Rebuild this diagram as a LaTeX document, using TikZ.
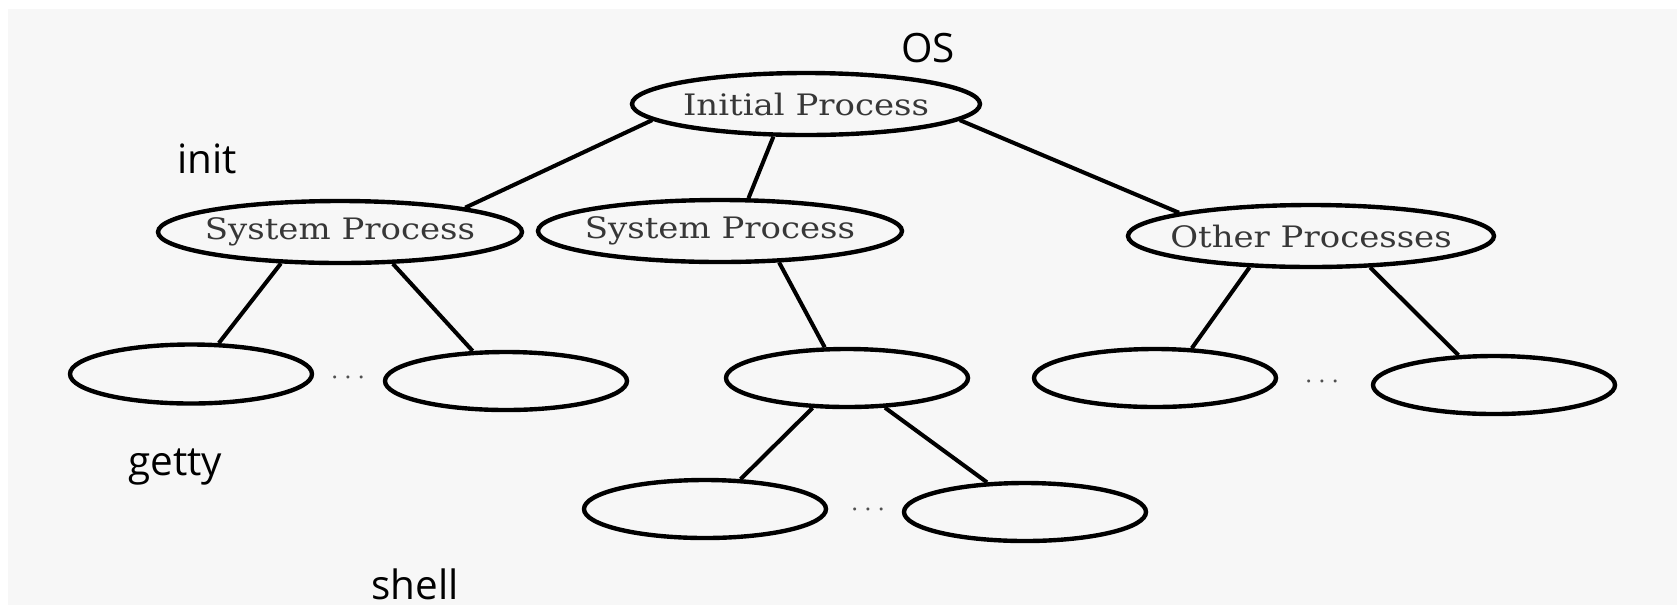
\documentclass[tikz,border=0pt]{standalone}
\usepackage{fontspec}
\setmainfont{DejaVu Serif}
\newfontfamily\boxfont[FakeStretch=1.15]{DejaVu Serif}
\newfontfamily\notefont{Open Sans}
\usetikzlibrary{shapes.geometric}
\definecolor{BgClr}{RGB}{247,247,247}
\definecolor{TextClr}{RGB}{55,55,55}
\definecolor{DotClr}{RGB}{80,80,80}

\tikzset{
  ProcNode/.style={ellipse,draw,line width=1.25pt,inner xsep=-0.2cm,inner ysep=0pt,
    minimum width=3.64cm,minimum height=0.62cm,
    font=\boxfont\fontsize{8.4}{9}\selectfont,text=TextClr},
  LeafNode/.style={ellipse,draw,line width=1.25pt,inner sep=0pt,
    minimum width=2.42cm,minimum height=0.58cm},
  DotNode/.style={inner sep=0pt,text=DotClr,font=\footnotesize},
  NoteNode/.style={anchor=base,inner sep=0pt,font=\notefont\fontsize{11.5}{13}\selectfont},
  EdgeLine/.style={line width=1.15pt}
}

\begin{document}
\begin{tikzpicture}
\useasboundingbox (0,0) rectangle (16.77,6.05);
\fill[white] (0,0) rectangle (16.77,6.05);
\fill[BgClr] (0.08,0) rectangle (16.77,5.96);

\node[ProcNode,minimum width=3.48cm] (ip) at (8.06,5.01) {Initial Process};
\node[ProcNode] (sp1) at (3.40,3.73) {System Process};
\node[ProcNode] (sp2) at (7.20,3.74) {System Process};
\node[ProcNode,minimum width=3.66cm] (oth) at (13.11,3.69) {Other Processes};

\node[LeafNode,minimum height=0.59cm] (ga) at (1.91,2.31) {};
\node[LeafNode] (gb) at (5.06,2.24) {};
\node[LeafNode] (sh) at (8.47,2.27) {};
\node[LeafNode] (oa) at (11.55,2.27) {};
\node[LeafNode] (ob) at (14.94,2.20) {};
\node[LeafNode] (ba) at (7.05,0.96) {};
\node[LeafNode] (bb) at (10.25,0.93) {};

\node[DotNode] (d1) at (3.48,2.27) {$\cdots$};
\node[DotNode] (d2) at (13.22,2.23) {$\cdots$};
\node[DotNode] (d3) at (8.68,0.95) {$\cdots$};

\foreach \a/\b in {ip.186/sp1.11,ip.225/sp2.49,ip.354/oth.170,
    sp1.208/ga.48,sp1.329/gb.138,sp2.332/sh.126,
    sh.221/ba.40,sh.322/bb.142,oth.207/oa.39,oth.332/ob.140}
  \draw[EdgeLine] (\a) -- (\b);

\node[NoteNode] (os) at (9.28,5.43) {OS};
\node[NoteNode] (init) at (2.07,4.32) {init};
\node[NoteNode] (getty) at (1.755,1.30) {getty};
\node[NoteNode] (shell) at (4.15,0.06) {shell};

\end{tikzpicture}
\end{document}
